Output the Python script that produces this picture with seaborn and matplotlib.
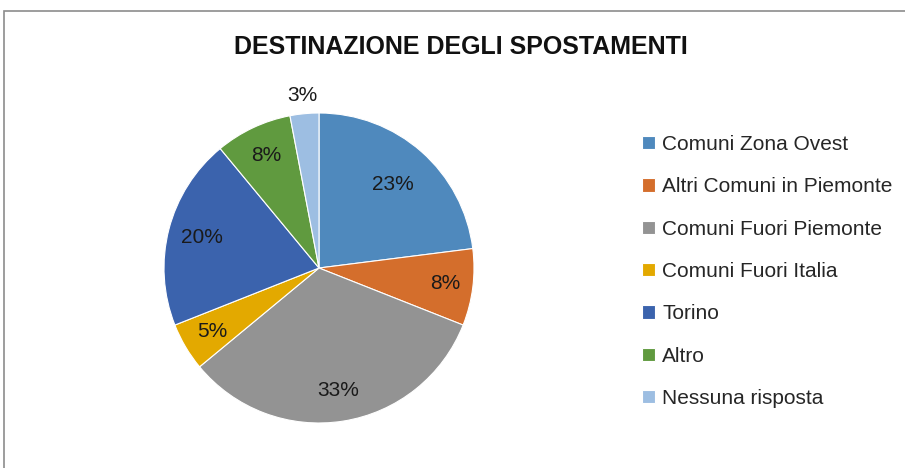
import numpy as np
import matplotlib.pyplot as plt
import matplotlib.patches as mpatches
import seaborn as sns

categories = ["Comuni Zona Ovest", "Altri Comuni in Piemonte", "Comuni Fuori Piemonte",
              "Comuni Fuori Italia", "Torino", "Altro", "Nessuna risposta"]
shares = [23, 8, 33, 5, 20, 8, 3]
colors = ["#4F89BD", "#D46E2C", "#939393", "#E3A900", "#3B63AD", "#609A3F", "#9DBEE2"]
label_dist = [0.72, 0.82, 0.80, 0.80, 0.78, 0.80, 1.12]

sns.set_theme(style="white")
plt.rcParams["font.family"] = ["Liberation Sans Narrow", "Liberation Sans", "DejaVu Sans"]

fig = plt.figure(figsize=(9.05, 4.68), dpi=100)
ax = fig.add_axes([164 / 905, 45 / 468, 310 / 905, 310 / 468])

wedges, texts, autotexts = ax.pie(
    shares, colors=colors, startangle=90, counterclock=False,
    autopct="%1.0f%%", pctdistance=0.8,
    wedgeprops=dict(edgecolor="white", linewidth=0.8),
    textprops=dict(fontsize=15, color="#1a1a1a"),
)
ax.set_xlim(-1, 1)
ax.set_ylim(-1, 1)
ax.set_aspect("equal")

# push each percentage label to roughly where the original puts it
for w, t, d in zip(wedges, autotexts, label_dist):
    ang = np.deg2rad((w.theta1 + w.theta2) / 2)
    t.set_position((d * np.cos(ang), d * np.sin(ang)))

fig.text(0.509, 1 - 47 / 468, "DESTINAZIONE DEGLI SPOSTAMENTI",
         ha="center", va="center", fontsize=18, fontweight="bold", color="#111111")

ax.legend(wedges, categories, loc="upper left", bbox_to_anchor=(642 / 905, 1 - 135 / 468),
          bbox_transform=fig.transFigure, frameon=False, fontsize=15,
          handlelength=0.62, handleheight=0.62, handletextpad=0.35, labelspacing=1.12,
          borderaxespad=0, borderpad=0)

fig.patches.append(mpatches.Rectangle((4 / 905, -0.2), 1.2, 1.2 - 11 / 468,
                                      transform=fig.transFigure, fill=False,
                                      edgecolor="#8c8c8c", linewidth=1.2))

fig.savefig("out.png", dpi=100, facecolor="white")
